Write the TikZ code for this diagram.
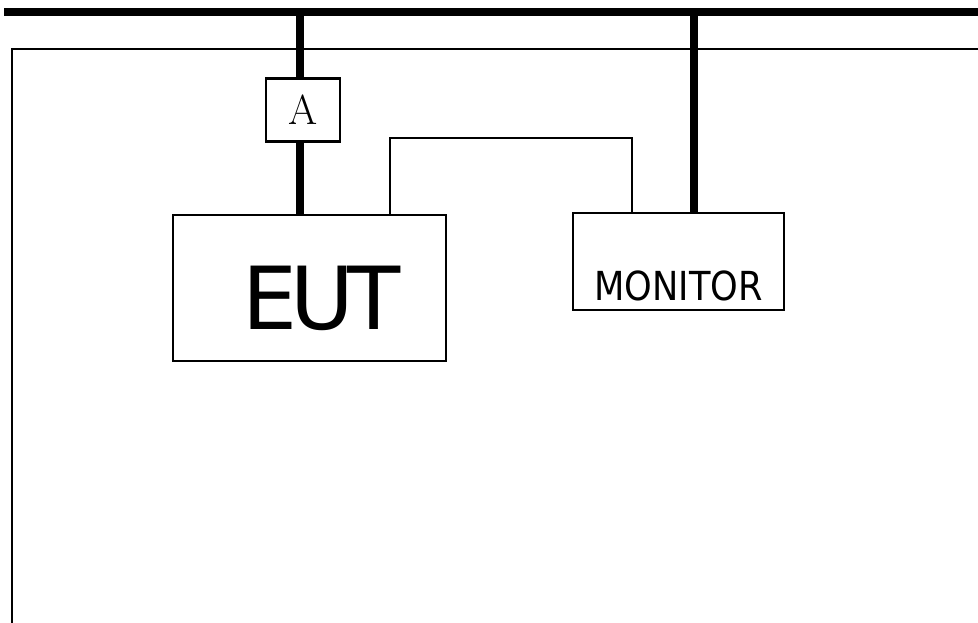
\documentclass[tikz,border=0pt]{standalone}
\usepackage{fontspec}
\usepackage{graphicx}
\newfontfamily\labelfont{DejaVu Sans}
\newfontfamily\eutfont[LetterSpace=-8]{DejaVu Sans}
\usetikzlibrary{positioning, calc}

\tikzset{
    unit/.style={draw, line width=2.2pt, inner sep=0pt},
    meter/.style={draw, line width=2.2pt, inner sep=0pt, minimum width=74pt, minimum height=63pt, font=\fontsize{42}{44}\selectfont},
    power/.style={line width=8pt},
    thin/.style={line width=2.2pt}
}

\begin{document}
\begin{tikzpicture}[x=1pt, y=-1pt]
    \useasboundingbox (0,0) rectangle (978,623);

    % Shield room
    \draw[thin] (12,623) -- (12,49) -- (978,49);

    % Mains bus
    \coordinate (busl) at (4,12);
    \coordinate (busr) at (978,12);
    \draw[power] (busl) -- (busr);
    \coordinate (tap) at (300,12);
    \coordinate (montap) at (694,12);

    % Units
    \node[meter] (amp) at (303,110) {A};
    \node[unit, minimum width=273pt, minimum height=146pt,
          label={[xshift=12pt, yshift=-10pt, inner sep=0pt, font=\eutfont\fontsize{87}{90}\selectfont]center:EUT}] (eut) at (309.5,288) {};
    \node[unit, minimum width=211pt, minimum height=97pt,
          label={[label distance=-40pt, inner sep=0pt, font=\labelfont\fontsize{40}{44}\selectfont]below:\scalebox{0.88}[1]{MONITOR}}] (mon) at (678.5,261.5) {};

    % Power feeds
    \draw[power] (tap) -- (tap |- amp.north);
    \draw[power] (tap |- amp.south) -- (tap |- eut.north);
    \draw[power] (montap) -- (montap |- mon.north);

    % Signal cable
    \coordinate (c1) at (390,138);
    \coordinate (c2) at (632,138);
    \draw[thin] (c1 |- eut.north) -- (c1) -- (c2) -- (c2 |- mon.north);
\end{tikzpicture}
\end{document}
